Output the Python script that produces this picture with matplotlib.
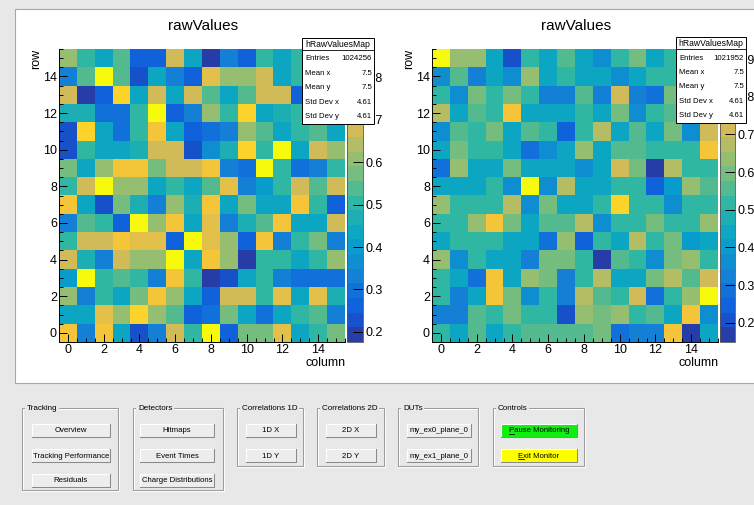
import numpy as np
import matplotlib
matplotlib.use('Agg')
import matplotlib.pyplot as plt
from matplotlib.colors import LinearSegmentedColormap, ListedColormap, BoundaryNorm
from matplotlib.patches import Rectangle

plt.rcParams['font.family'] = ['Liberation Sans', 'DejaVu Sans']

W, H = 754, 505
BG = '#e8e8e8'

# raw values per pixel, row 15 first (top of the map) down to row 0
raw_left = [
    [0.60, 0.50, 0.43, 0.55, 0.27, 0.27, 0.67, 0.43, 0.19, 0.34, 0.27, 0.50, 0.43, 0.50, 0.45, 0.52],
    [0.34, 0.55, 0.86, 0.55, 0.23, 0.43, 0.34, 0.27, 0.72, 0.60, 0.60, 0.67, 0.43, 0.50, 0.58, 0.47],
    [0.67, 0.19, 0.27, 0.77, 0.43, 0.69, 0.43, 0.66, 0.55, 0.43, 0.55, 0.69, 0.69, 0.27, 0.40, 0.62],
    [0.46, 0.46, 0.31, 0.31, 0.50, 0.86, 0.27, 0.34, 0.60, 0.50, 0.77, 0.43, 0.48, 0.52, 0.51, 0.44],
    [0.23, 0.77, 0.43, 0.28, 0.51, 0.76, 0.42, 0.26, 0.29, 0.34, 0.61, 0.55, 0.42, 0.50, 0.55, 0.44],
    [0.22, 0.49, 0.42, 0.44, 0.48, 0.66, 0.66, 0.23, 0.35, 0.48, 0.78, 0.49, 0.86, 0.43, 0.69, 0.62],
    [0.58, 0.43, 0.62, 0.76, 0.76, 0.56, 0.66, 0.66, 0.76, 0.33, 0.31, 0.86, 0.50, 0.31, 0.34, 0.50],
    [0.49, 0.66, 0.86, 0.61, 0.61, 0.42, 0.50, 0.42, 0.55, 0.70, 0.33, 0.41, 0.49, 0.66, 0.55, 0.66],
    [0.74, 0.42, 0.23, 0.59, 0.48, 0.33, 0.60, 0.48, 0.76, 0.43, 0.56, 0.42, 0.42, 0.74, 0.49, 0.26],
    [0.34, 0.55, 0.49, 0.27, 0.867, 0.60, 0.74, 0.43, 0.70, 0.32, 0.48, 0.55, 0.75, 0.43, 0.44, 0.67],
    [0.49, 0.67, 0.67, 0.73, 0.71, 0.71, 0.27, 0.85, 0.71, 0.62, 0.26, 0.74, 0.32, 0.49, 0.59, 0.34],
    [0.67, 0.48, 0.34, 0.67, 0.62, 0.62, 0.85, 0.43, 0.74, 0.62, 0.18, 0.49, 0.51, 0.43, 0.51, 0.60],
    [0.41, 0.867, 0.51, 0.55, 0.50, 0.32, 0.75, 0.49, 0.176, 0.24, 0.42, 0.50, 0.33, 0.28, 0.29, 0.31],
    [0.61, 0.33, 0.50, 0.42, 0.56, 0.74, 0.60, 0.43, 0.26, 0.67, 0.67, 0.49, 0.70, 0.43, 0.72, 0.48],
    [0.42, 0.42, 0.70, 0.60, 0.77, 0.62, 0.55, 0.27, 0.30, 0.56, 0.43, 0.28, 0.42, 0.49, 0.55, 0.33],
    [0.74, 0.33, 0.74, 0.42, 0.23, 0.33, 0.66, 0.50, 0.86, 0.27, 0.56, 0.56, 0.70, 0.42, 0.50, 0.56],
]

raw_right = [
    [0.927, 0.62, 0.62, 0.43, 0.22, 0.51, 0.44, 0.57, 0.44, 0.36, 0.51, 0.60, 0.45, 0.52, 0.50, 0.47],
    [0.35, 0.56, 0.33, 0.44, 0.36, 0.62, 0.43, 0.51, 0.44, 0.43, 0.36, 0.44, 0.51, 0.53, 0.48, 0.55],
    [0.52, 0.35, 0.61, 0.52, 0.61, 0.52, 0.33, 0.33, 0.57, 0.34, 0.70, 0.33, 0.27, 0.60, 0.45, 0.58],
    [0.66, 0.44, 0.57, 0.51, 0.79, 0.43, 0.43, 0.45, 0.52, 0.43, 0.61, 0.36, 0.51, 0.55, 0.50, 0.46],
    [0.35, 0.57, 0.52, 0.61, 0.44, 0.56, 0.51, 0.26, 0.52, 0.66, 0.43, 0.56, 0.43, 0.61, 0.35, 0.71],
    [0.44, 0.61, 0.51, 0.51, 0.44, 0.29, 0.36, 0.43, 0.63, 0.44, 0.57, 0.57, 0.51, 0.52, 0.52, 0.80],
    [0.28, 0.65, 0.43, 0.43, 0.61, 0.43, 0.43, 0.44, 0.37, 0.43, 0.72, 0.60, 0.17, 0.68, 0.52, 0.51],
    [0.43, 0.43, 0.44, 0.53, 0.35, 0.91, 0.36, 0.67, 0.44, 0.45, 0.52, 0.52, 0.25, 0.42, 0.63, 0.54],
    [0.63, 0.52, 0.50, 0.51, 0.67, 0.35, 0.61, 0.43, 0.43, 0.52, 0.82, 0.51, 0.51, 0.37, 0.50, 0.51],
    [0.51, 0.51, 0.64, 0.79, 0.61, 0.44, 0.57, 0.57, 0.68, 0.36, 0.52, 0.51, 0.60, 0.51, 0.50, 0.63],
    [0.45, 0.50, 0.52, 0.52, 0.45, 0.45, 0.28, 0.62, 0.26, 0.52, 0.43, 0.68, 0.51, 0.61, 0.42, 0.45],
    [0.64, 0.35, 0.51, 0.45, 0.43, 0.33, 0.61, 0.61, 0.52, 0.17, 0.57, 0.52, 0.36, 0.61, 0.65, 0.53],
    [0.52, 0.44, 0.27, 0.81, 0.43, 0.64, 0.61, 0.33, 0.52, 0.68, 0.44, 0.44, 0.61, 0.68, 0.57, 0.72],
    [0.52, 0.33, 0.45, 0.79, 0.60, 0.35, 0.50, 0.31, 0.67, 0.57, 0.51, 0.73, 0.28, 0.52, 0.64, 0.92],
    [0.33, 0.33, 0.57, 0.52, 0.61, 0.51, 0.52, 0.19, 0.62, 0.61, 0.63, 0.51, 0.57, 0.44, 0.78, 0.36],
    [0.52, 0.44, 0.57, 0.44, 0.52, 0.57, 0.57, 0.57, 0.57, 0.58, 0.28, 0.33, 0.33, 0.78, 0.149, 0.44],
]

axis_ticks = [0, 2, 4, 6, 8, 10, 12, 14]
zticks_left = [0.2, 0.3, 0.4, 0.5, 0.6, 0.7, 0.8]
zticks_right = [0.2, 0.3, 0.4, 0.5, 0.6, 0.7, 0.8, 0.9]

stat_names = ['Entries', 'Mean x', 'Mean y', 'Std Dev x', 'Std Dev y']
stats_left = ['1024256', '7.5', '7.5', '4.61', '4.61']
stats_right = ['1021952', '7.5', '7.5', '4.61', '4.61']

# ROOT kBird palette, 20 contour levels
bird_stops = [0.0, 0.125, 0.25, 0.375, 0.5, 0.625, 0.75, 0.875, 1.0]
bird_red = [0.2082, 0.0592, 0.0780, 0.0232, 0.1802, 0.5301, 0.8186, 0.9956, 0.9764]
bird_green = [0.1664, 0.3599, 0.5041, 0.6419, 0.7178, 0.7492, 0.7328, 0.7862, 0.9832]
bird_blue = [0.5293, 0.8684, 0.8385, 0.7914, 0.6425, 0.4662, 0.3499, 0.1968, 0.0539]
bird = LinearSegmentedColormap.from_list(
    'bird', list(zip(bird_stops, zip(bird_red, bird_green, bird_blue))))
ncont = 20
palette = ListedColormap([bird(int((i + 0.99) * 255 / ncont) / 254) for i in range(ncont)])


def px_rect(x0, y0, x1, y1):
    return [x0 / W, 1 - y1 / H, (x1 - x0) / W, (y1 - y0) / H]


fig = plt.figure(figsize=(W / 100, H / 100), dpi=100, facecolor=BG)

gui = fig.add_axes([0, 0, 1, 1], zorder=0)
gui.set_xlim(0, W)
gui.set_ylim(H, 0)
gui.axis('off')

top = fig.add_axes([0, 0, 1, 1], zorder=5)
top.set_xlim(0, W)
top.set_ylim(H, 0)
top.axis('off')

# canvas
gui.add_patch(Rectangle((14.5, 8.5), 760, 374, facecolor='white', edgecolor='#a8a8a8', lw=0.8))

panels = [
    dict(values=raw_left, zticks=zticks_left, stats=stats_left,
         plot=(59, 49, 345, 342), cbar=(347, 363), box=(302, 38, 374, 124)),
    dict(values=raw_right, zticks=zticks_right, stats=stats_right,
         plot=(432, 49, 718, 342), cbar=(720, 735), box=(676, 37, 746, 123)),
]

for p in panels:
    x0, y0, x1, y1 = p['plot']
    data = np.array(p['values'])
    vmin, vmax = data.min(), data.max()
    norm = BoundaryNorm(np.linspace(vmin, vmax, ncont + 1), ncont)

    ax = fig.add_axes(px_rect(x0, y0, x1, y1), zorder=2)
    im = ax.imshow(data, cmap=palette, norm=norm, origin='upper',
                   extent=(-0.5, 15.5, -0.5, 15.5), aspect='auto',
                   interpolation='nearest')
    ax.set_xlim(-0.5, 15.5)
    ax.set_ylim(-0.5, 15.5)
    ax.set_xticks(axis_ticks)
    ax.set_yticks(axis_ticks)
    ax.set_xticks(np.arange(-0.5, 15.6, 0.5), minor=True)
    ax.set_yticks(np.arange(-0.5, 15.6, 0.5), minor=True)
    ax.tick_params(which='both', direction='in', top=False, right=False,
                   labelsize=9, pad=1.5, width=0.7, color='black')
    ax.tick_params(which='major', length=6)
    ax.tick_params(which='minor', length=3)
    for side, s in ax.spines.items():
        s.set_linewidth(0.7)
        if side in ('top', 'right'):
            s.set_visible(False)

    cx0, cx1 = p['cbar']
    cax = fig.add_axes(px_rect(cx0, y0, cx1, y1), zorder=2)
    cb = fig.colorbar(im, cax=cax, ticks=p['zticks'])
    cb.outline.set_linewidth(0.6)
    cb.outline.set_edgecolor('#555555')
    cax.tick_params(direction='in', length=7, width=0.7, labelsize=9, pad=1.5)
    cax.set_yticklabels([f'{t:.1f}' for t in p['zticks']])
    cax.minorticks_off()

    gui.text((x0 + x1) / 2 + 1, 26, 'rawValues', ha='center', va='center', fontsize=11)
    gui.text(x0 - 23, y0, 'row', rotation=90, ha='center', va='top', fontsize=9)
    gui.text(x1 + 1, 363, 'column', ha='right', va='center', fontsize=9)

    # statistics box
    bx0, by0, bx1, by1 = p['box']
    top.add_patch(Rectangle((bx0, by0), bx1 - bx0, by1 - by0,
                            facecolor='white', edgecolor='black', lw=0.7))
    top.plot([bx0, bx1], [by0 + 12, by0 + 12], color='black', lw=0.6)
    top.text((bx0 + bx1) / 2, by0 + 6.5, 'hRawValuesMap', ha='center', va='center', fontsize=6.2)
    for i, (name, val) in enumerate(zip(stat_names, p['stats'])):
        yy = by0 + 21 + i * 14.4
        top.text(bx0 + 3, yy, name, ha='left', va='center', fontsize=5.6)
        top.text(bx1 - 2, yy, val, ha='right', va='center', fontsize=5.6)


def group(x0, y0, x1, y1, title):
    gui.add_patch(Rectangle((x0 + 1, y0 + 1), x1 - x0, y1 - y0, fill=False,
                            edgecolor='white', lw=0.75))
    gui.add_patch(Rectangle((x0, y0), x1 - x0, y1 - y0, fill=False,
                            edgecolor='#9c9c9c', lw=0.75))
    gui.text(x0 + 5, y0, title, ha='left', va='center', fontsize=5.8,
             bbox=dict(facecolor=BG, edgecolor='none', pad=1.2))


def button(x0, y0, x1, y1, label, face='#ededed', hotkey=False):
    gui.add_patch(Rectangle((x0, y0), x1 - x0, y1 - y0, facecolor=face, edgecolor='none'))
    gui.plot([x0, x0, x1], [y1, y0, y0], color='white', lw=0.75)
    gui.plot([x0, x1, x1], [y1, y1, y0], color='#8a8a8a', lw=0.75)
    t = gui.text((x0 + x1) / 2, (y0 + y1) / 2 + 0.5, label, ha='center', va='center',
                 fontsize=5.6)
    if hotkey:
        # underline the first letter (keyboard shortcut)
        r = fig.canvas.get_renderer()
        full = t.get_window_extent(r)
        first = gui.text(0, 0, label[0], fontsize=5.6).get_window_extent(r)
        inv = gui.transData.inverted()
        (ux0, uy), (ux1, _) = inv.transform([(full.x0, full.y0), (full.x0 + first.width, full.y0)])
        gui.texts[-1].remove()
        gui.plot([ux0, ux1], [uy - 0.2, uy - 0.2], color='black', lw=0.6)


row_y = [(424, 437), (449, 462), (474, 487)]

group(22, 408, 118, 490, 'Tracking')
for (ya, yb), lab in zip(row_y, ['Overview', 'Tracking Performance', 'Residuals']):
    button(32, ya, 110, yb, lab)

group(133, 408, 223, 490, 'Detectors')
for (ya, yb), lab in zip(row_y, ['Hitmaps', 'Event Times', 'Charge Distributions']):
    button(140, ya, 214, yb, lab)

group(237, 408, 303, 466, 'Correlations 1D')
for (ya, yb), lab in zip(row_y, ['1D X', '1D Y']):
    button(246, ya, 296, yb, lab)

group(317, 408, 384, 466, 'Correlations 2D')
for (ya, yb), lab in zip(row_y, ['2D X', '2D Y']):
    button(326, ya, 376, yb, lab)

group(398, 408, 478, 466, 'DUTs')
for (ya, yb), lab in zip(row_y, ['my_ex0_plane_0', 'my_ex1_plane_0']):
    button(407, ya, 471, yb, lab)

group(493, 408, 584, 466, 'Controls')
button(501, 424, 577, 437, 'Pause Monitoring', face='#10f010', hotkey=True)
button(501, 449, 577, 462, 'Exit Monitor', face='#ffff00', hotkey=True)

fig.savefig('out.png', dpi=100, facecolor=fig.get_facecolor())
